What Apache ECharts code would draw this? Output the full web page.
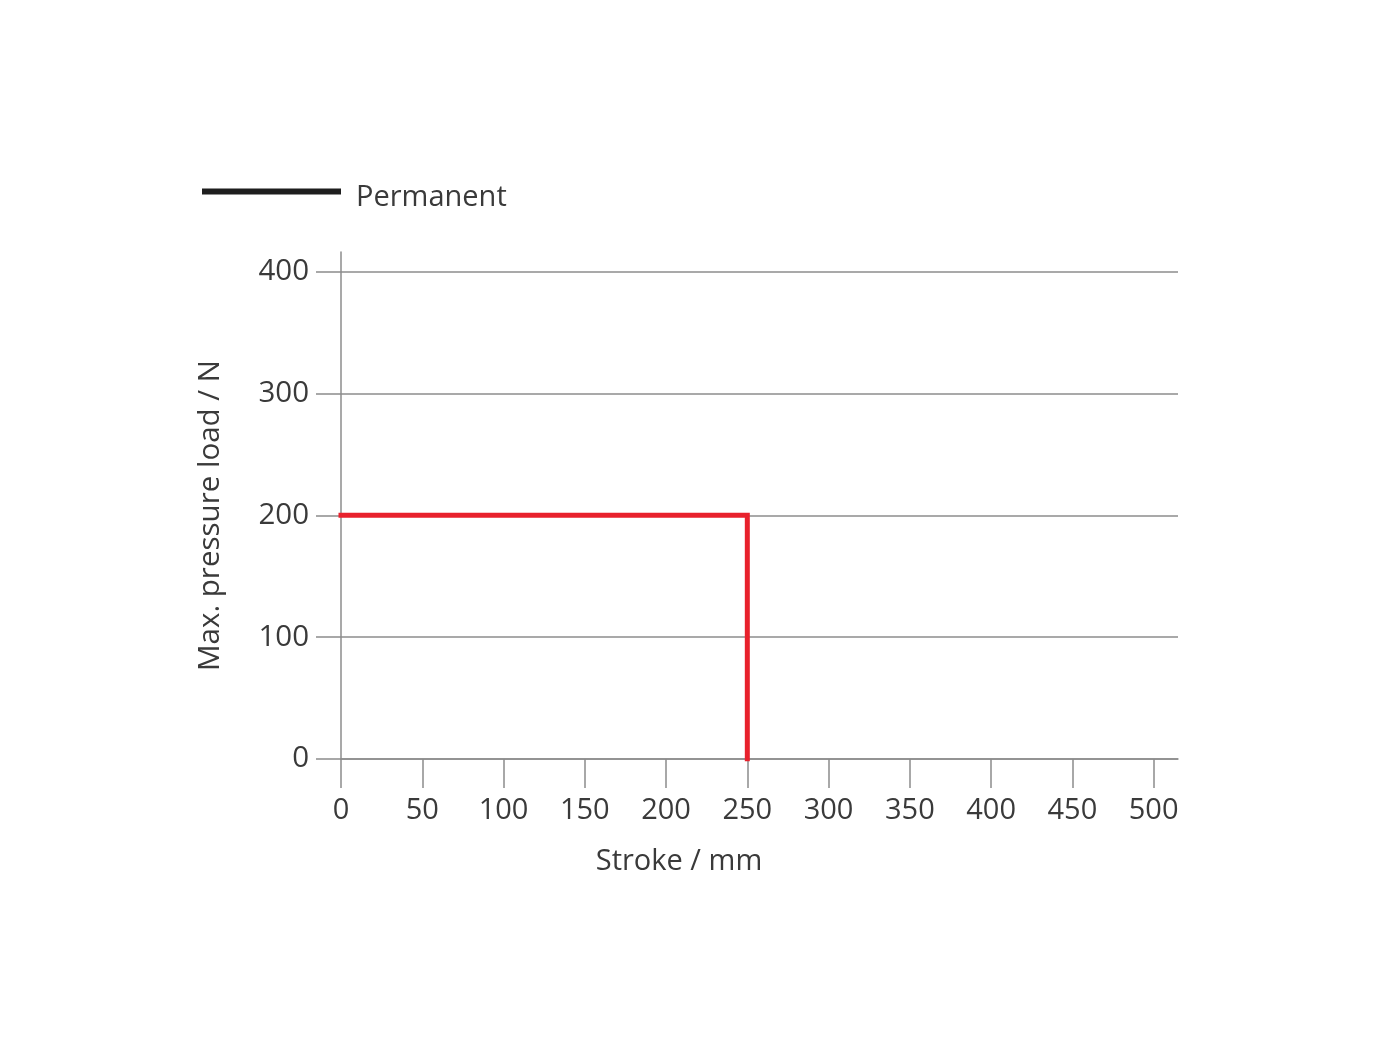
<!DOCTYPE html>
<html>
<head>
<meta charset="utf-8">
<script src="https://cdn.jsdelivr.net/npm/echarts@6/dist/echarts.min.js"></script>
<style>html,body{margin:0;padding:0;background:#fff}#c{width:1400px;height:1050px}</style>
</head>
<body>
<div id="c"></div>
<script>
const seriesName = 'Permanent';
const strokeValues = [0, 250, 250];
const loadValues = [200, 200, 0];
const xTicks = [0, 50, 100, 150, 200, 250, 300, 350, 400, 450, 500];
const yTicks = [0, 100, 200, 300, 400];
const xTitle = 'Stroke / mm';
const yTitle = 'Max. pressure load / N';

const txt = '#3a3a3a';
const gridCol = '#8c8c8c';
const font = 'Open Sans';

const chart = echarts.init(document.getElementById('c'));
chart.setOption({
  backgroundColor: '#fff',
  animation: false,
  grid: { left: 341, right: 222, top: 252, bottom: 291, containLabel: false },
  legend: {
    left: 197, top: 178,
    itemWidth: 139, itemHeight: 6,
    icon: 'rect',
    data: [{ name: seriesName, icon: 'rect', itemStyle: { color: '#1e1e1e' } }],
    formatter: function (n) { return '{a|' + n + '}'; },
    textStyle: {
      fontFamily: font, fontSize: 29, color: txt, padding: [0, 0, 0, 10],
      rich: { a: { fontFamily: font, fontSize: 29, color: txt, padding: [12, 0, 0, 0] } }
    }
  },
  xAxis: {
    type: 'value', min: 0, max: 515, interval: 50,
    name: xTitle, nameLocation: 'middle', nameGap: 88,
    nameTextStyle: { fontFamily: font, fontSize: 29, color: txt, padding: [0, 161, 0, 0] },
    axisLine: { show: true, lineStyle: { color: gridCol, width: 1.5 } },
    axisTick: { show: true, length: 29, customValues: xTicks, lineStyle: { color: gridCol, width: 1.5 } },
    axisLabel: { customValues: xTicks, margin: 37, fontFamily: font, fontSize: 29, color: txt },
    splitLine: { show: false }
  },
  yAxis: {
    type: 'value', min: 0, max: 416, interval: 100,
    name: yTitle, nameLocation: 'middle', nameGap: 115, nameRotate: 90,
    nameTextStyle: { fontFamily: font, fontSize: 29.5, color: txt, padding: [0, 20, 0, 0] },
    axisLine: { show: true, lineStyle: { color: gridCol, width: 1.5 } },
    axisTick: { show: true, length: 25, customValues: yTicks, lineStyle: { color: gridCol, width: 1.5 } },
    axisLabel: { customValues: yTicks, margin: 32, fontFamily: font, fontSize: 29.5, color: txt },
    splitLine: { show: true, lineStyle: { color: gridCol, width: 1.5 } }
  },
  series: [{
    name: seriesName,
    type: 'line',
    symbol: 'none',
    data: strokeValues.map((x, i) => [x, loadValues[i]]),
    lineStyle: { color: '#e8212c', width: 5, cap: 'square', join: 'miter' },
    itemStyle: { color: '#e8212c' },
    z: 5
  }]
});
</script>
</body>
</html>
